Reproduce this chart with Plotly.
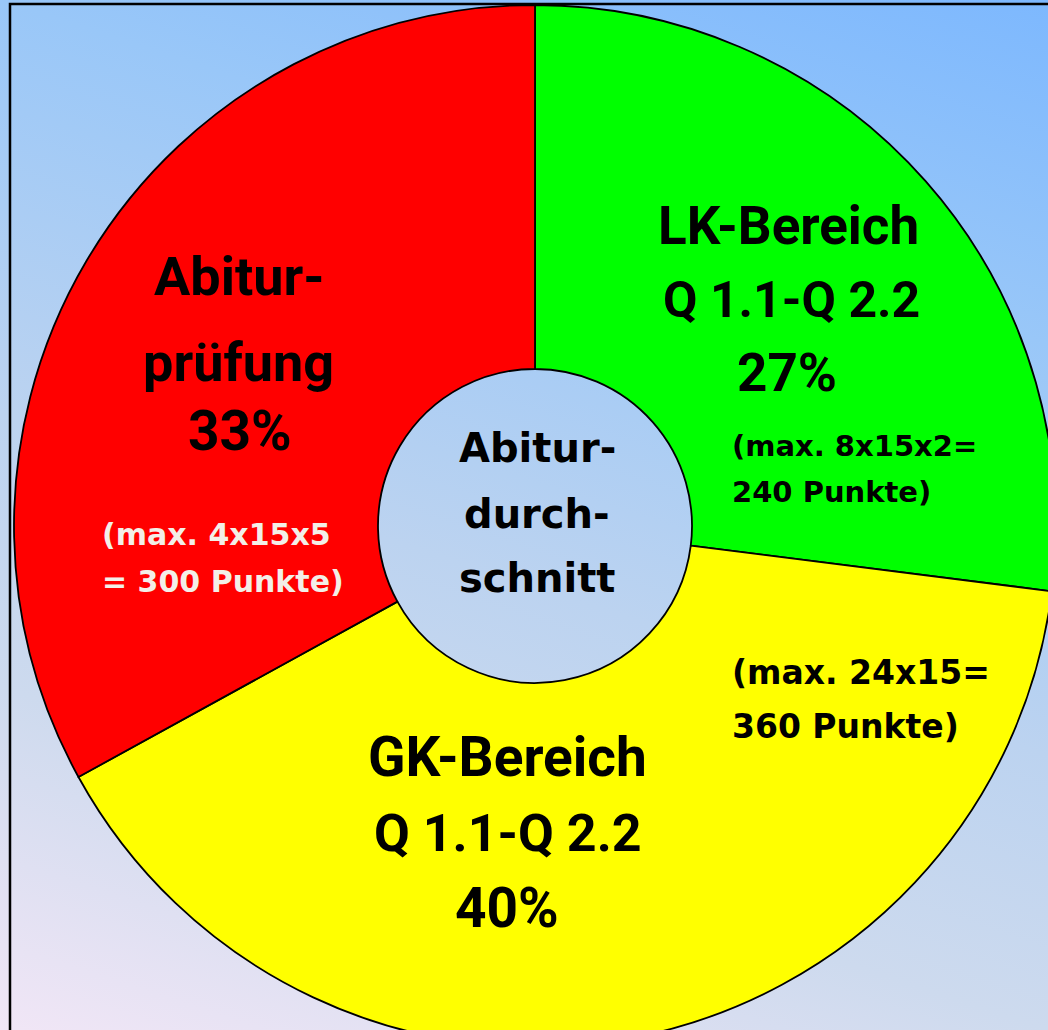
import base64
import plotly.graph_objects as go

# ---------------- data ----------------
segments = ["LK-Bereich", "GK-Bereich", "Abiturprüfung"]
shares = [27, 40, 33]
slice_colors = ["#00ff00", "#ffff00", "#ff0000"]

lk_label = ["LK-Bereich", "Q 1.1-Q 2.2"]
gk_label = ["GK-Bereich", "Q 1.1-Q 2.2"]
abi_label = ["Abitur-", "prüfung"]
lk_note = ["(max. 8x15x2=", "240 Punkte)"]
gk_note = ["(max. 24x15=", "360 Punkte)"]
abi_note = ["(max. 4x15x5", "= 300 Punkte)"]
center_label = ["Abitur-", "durch-", "schnitt"]

# ---------------- layout helpers ----------------
W = H = 1070          # figure size (viewport 1048x1030 shows the top-left part)
VW, VH = 1048, 1030


def px(x):
    return x / W


def py(y):
    return 1 - y / H


# pie geometry (pixels)
cx, cy, R = 535, 526, 521
hole_r = 157

BIG = "Roboto"
SMALL = "DejaVu Sans"

fig = go.Figure()
fig.add_trace(go.Pie(
    labels=segments,
    values=shares,
    sort=False,
    direction="clockwise",
    rotation=0,
    hole=hole_r / R,
    marker=dict(colors=slice_colors, line=dict(color="black", width=1.8)),
    textinfo="none",
    hoverinfo="label+percent",
    showlegend=False,
    domain=dict(x=[px(cx - R), px(cx + R)], y=[py(cy + R), py(cy - R)]),
))

# background gradient (SVG data URI)
svg = f'''<svg xmlns="http://www.w3.org/2000/svg" width="{VW}" height="{VH}" viewBox="0 0 {VW} {VH}" preserveAspectRatio="none">
<defs><linearGradient id="g" x1="1" y1="0" x2="0.6" y2="1.2">
<stop offset="0" stop-color="#7db8fe"/>
<stop offset="0.25" stop-color="#99c7f8"/>
<stop offset="0.55" stop-color="#bcd3f0"/>
<stop offset="0.75" stop-color="#cddaee"/>
<stop offset="1" stop-color="#f1e6f6"/>
</linearGradient></defs>
<rect x="0" y="0" width="{VW}" height="{VH}" fill="url(#g)"/>
</svg>'''
src = "data:image/svg+xml;base64," + base64.b64encode(svg.encode()).decode()

annotations = []


def add(text, x, y, size, family, anchor="center", color="black"):
    annotations.append(dict(
        text=text, x=px(x), y=py(y), xref="paper", yref="paper",
        xanchor=anchor, yanchor="middle", showarrow=False,
        font=dict(family=family, size=size, color=color, weight="bold"),
    ))


# green slice
add(lk_label[0], 788, 226, 53, BIG)
add(lk_label[1], 791, 300, 50, BIG)
add(f"{shares[0]}%", 787, 373, 53, BIG)
add(lk_note[0], 730, 446, 29, SMALL, "left")
add(lk_note[1], 730, 492, 29, SMALL, "left")

# yellow slice
add(gk_note[0], 730, 672, 33, SMALL, "left")
add(gk_note[1], 730, 726, 33, SMALL, "left")
add(gk_label[0], 507, 757, 55, BIG)
add(gk_label[1], 508, 833, 52, BIG)
add(f"{shares[1]}%", 507, 908, 55, BIG)

# red slice
add(abi_label[0], 239, 276, 54, BIG)
add(abi_label[1], 238, 362, 54, BIG)
add(f"{shares[2]}%", 240, 431, 55, BIG)
add(abi_note[0], 100, 534, 30, SMALL, "left", "#f3efe8")
add(abi_note[1], 100, 581, 30, SMALL, "left", "#f3efe8")

# center
add(center_label[0], 537, 448, 40, SMALL)
add(center_label[1], 537, 514, 40, SMALL)
add(center_label[2], 537, 578, 40, SMALL)

fig.update_layout(
    width=W, height=H,
    margin=dict(l=0, r=0, t=0, b=0),
    paper_bgcolor="#b8d2f2",
    plot_bgcolor="rgba(0,0,0,0)",
    showlegend=False,
    images=[dict(source=src, xref="paper", yref="paper", x=0, y=1,
                 sizex=VW / W, sizey=VH / H, sizing="stretch",
                 xanchor="left", yanchor="top", layer="below")],
    shapes=[dict(type="rect", xref="paper", yref="paper",
                 x0=px(10), y0=py(1068), x1=px(1068), y1=py(4),
                 line=dict(color="black", width=2.5), fillcolor="rgba(0,0,0,0)",
                 layer="below")],
    annotations=annotations,
)

fig.write_html(
    "out.html",
    config={"displayModeBar": False},
    post_script="document.body.style.margin='0px';document.body.style.overflow='hidden';document.documentElement.style.overflow='hidden';",
)
